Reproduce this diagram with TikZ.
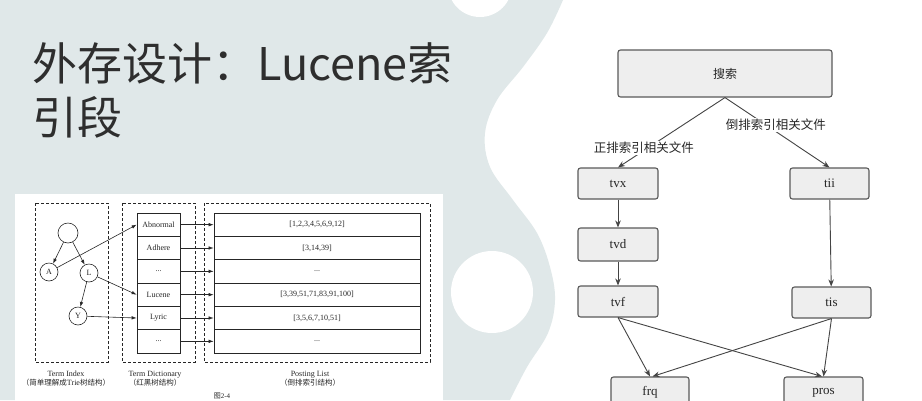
\documentclass[tikz,border=0pt]{standalone}
\usepackage{fontspec}
\setmainfont{Liberation Serif}
\newfontfamily\cjk{Noto Sans CJK SC}
\usetikzlibrary{arrows.meta}
\definecolor{bgc}{HTML}{E0E8E9}
\definecolor{titlec}{HTML}{2E2E2E}
\definecolor{boxfill}{HTML}{EEEEEE}
\definecolor{boxline}{HTML}{5A5A5A}
\definecolor{arrc}{HTML}{444444}
\tikzset{
  smalltxt/.style={font=\fontsize{8}{9}\selectfont, text=black!85},
  tcirc/.style={circle, draw=black!85, line width=0.6pt, minimum size=18pt, inner sep=0pt, smalltxt},
  dictbox/.style={rectangle, draw=black!85, line width=0.7pt, minimum width=43pt, minimum height=23.33pt, inner sep=0pt, smalltxt},
  postbox/.style={rectangle, draw=black!85, line width=0.7pt, minimum width=206pt, minimum height=23.33pt, inner sep=0pt, smalltxt},
  dashbox/.style={draw=black!85, line width=0.7pt, dash pattern=on 3pt off 2pt},
  sarr/.style={draw=black!85, line width=0.6pt, -{Latex[length=5pt,width=3.5pt]}},
  fbox/.style={rectangle, rounded corners=2.5pt, fill=boxfill, draw=boxline, line width=1.1pt, inner sep=0pt, text=black!85, font=\fontsize{13}{15}\selectfont},
  farr/.style={draw=arrc, line width=0.9pt, -{Stealth[length=7pt,width=5.5pt]}},
  elab/.style={fill=white, inner sep=1.5pt, text=black!85, font=\cjk\fontsize{12.5}{14}\selectfont},
  captxt/.style={smalltxt, align=center, inner sep=0pt}
}
\begin{document}
\begin{tikzpicture}[x=1pt,y=-1pt]
\useasboundingbox (0,0) rectangle (922,400);
\clip (0,0) rectangle (922,400);
\fill[white] (0,0) rectangle (922,400);
% background blob
\fill[bgc] (0,0) -- plot[smooth, tension=0.6] coordinates {(563,0) (547,33) (523,67) (497,100) (485,133) (490,167) (513,200) (537,233) (550,267) (555,300) (548,333) (527,367) (510,400)} -- (0,400) -- cycle;
\fill[white] (480,-15) circle[radius=32pt];
\fill[white] (492,292) circle[radius=41pt];

% title
\node[anchor=base west, inner sep=0pt, text=titlec, font=\cjk\fontsize{45}{54}\selectfont] (title1) at (32,80) {外存设计：Lucene索};
\node[anchor=base west, inner sep=0pt, text=titlec, font=\cjk\fontsize{45}{54}\selectfont] (title2) at (32,134) {引段};

% embedded figure
\fill[white] (15,194) rectangle (443,410);
\draw[dashbox] (35,203) rectangle (108,362);
\draw[dashbox] (122,203) rectangle (195,362);
\draw[dashbox] (204,203) rectangle (430,362);

\node[tcirc, minimum size=20pt] (root) at (68,233) {};
\node[tcirc] (A) at (49,272) {A};
\node[tcirc] (L) at (89,273) {L};
\node[tcirc] (Y) at (78,316) {Y};

\node[dictbox] (d1) at (158.5,224.67) {Abnormal};
\node[dictbox] (d2) at (158.5,248) {Adhere};
\node[dictbox] (d3) at (158.5,271.33) {...};
\node[dictbox] (d4) at (158.5,294.67) {Lucene};
\node[dictbox] (d5) at (158.5,318) {Lyric};
\node[dictbox] (d6) at (158.5,341.33) {...};

\node[postbox] (p1) at (317,224.67) {[1,2,3,4,5,6,9,12]};
\node[postbox] (p2) at (317,248) {[3,14,39]};
\node[postbox] (p3) at (317,271.33) {...};
\node[postbox] (p4) at (317,294.67) {[3,39,51,71,83,91,100]};
\node[postbox] (p5) at (317,318) {[3,5,6,7,10,51]};
\node[postbox] (p6) at (317,341.33) {...};

\draw[sarr] (root) -- (A);
\draw[sarr] (root) -- (L);
\draw[sarr] (L) -- (Y);
\draw[sarr] (A) -- (d1.west);
\draw[sarr] (L) -- (d4.west);
\draw[sarr] (Y) -- (d5.west);
\foreach \i in {1,...,6} { \draw[sarr] (d\i.east) -- (p\i.west); }

\node[captxt] (c1) at (66,379) {Term Index\\{\cjk\fontsize{7.5}{9}\selectfont （简单理解成}Trie{\cjk\fontsize{7.5}{9}\selectfont 树结构）}};
\node[captxt] (c2) at (155,379) {Term Dictionary\\{\cjk\fontsize{7.5}{9}\selectfont （红黑树结构）}};
\node[captxt] (c3) at (310,379) {Posting List\\{\cjk\fontsize{7.5}{9}\selectfont （倒排索引结构）}};
\node[smalltxt, anchor=south, inner sep=0pt, font=\fontsize{7}{8}\selectfont] (fig) at (222,399.5) {{\cjk 图}2-4};

% flowchart
\node[fbox, minimum width=214pt, minimum height=47pt, font=\cjk\fontsize{12}{14}\selectfont] (sou) at (725,73.5) {搜索};
\node[fbox, minimum width=80pt, minimum height=31pt] (tvx) at (618,183.5) {tvx};
\node[fbox, minimum width=80pt, minimum height=33pt] (tvd) at (618,244.5) {tvd};
\node[fbox, minimum width=80pt, minimum height=31pt] (tvf) at (618,301.5) {tvf};
\node[fbox, minimum width=79pt, minimum height=31pt] (tii) at (829.5,183.5) {tii};
\node[fbox, minimum width=79pt, minimum height=31pt] (tis) at (831.5,302.5) {tis};
\node[fbox, minimum width=78pt, minimum height=31pt] (frq) at (650,392.5) {frq};
\node[fbox, minimum width=79pt, minimum height=31pt] (pros) at (823.5,392.5) {pros};

\draw[farr] (sou.south) -- (tvx.north) node[elab, pos=0.72, xshift=-4pt] {正排索引相关文件};
\draw[farr] (sou.south) -- (tii.north) node[elab, pos=0.39, xshift=10pt] {倒排索引相关文件};
\draw[farr] (tvx) -- (tvd);
\draw[farr] (tvd) -- (tvf);
\draw[farr] (tii) -- (tis);
\draw[farr] (tvf.south) -- (frq.north);
\draw[farr] (tvf.south) -- ([xshift=-1.5pt]pros.north);
\draw[farr] (tis.south) -- ([xshift=2.5pt]frq.north);
\draw[farr] (tis.south) -- (pros.north);
\end{tikzpicture}
\end{document}
